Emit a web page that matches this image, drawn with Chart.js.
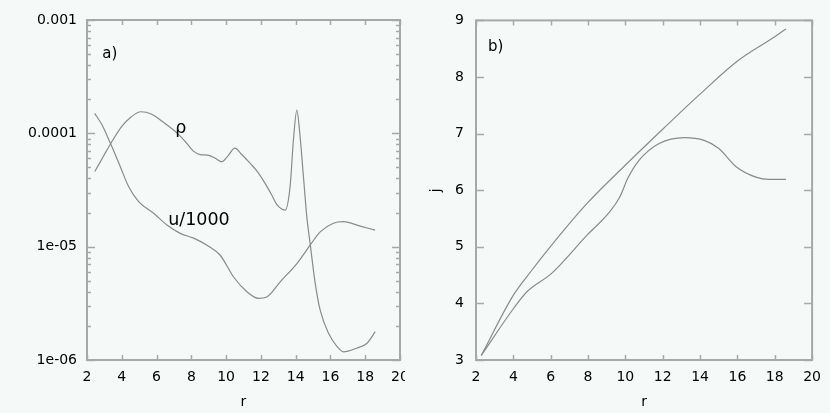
<!DOCTYPE html>
<html>
<head>
<meta charset="utf-8">
<script src="https://cdn.jsdelivr.net/npm/chart.js@4.4.1/dist/chart.umd.min.js"></script>
<style>
  html, body { margin: 0; padding: 0; background: #f5faf8; }
  #wrap { position: relative; width: 830px; height: 413px; overflow: hidden; }
  canvas { position: absolute; top: 0; background: #f5faf8; }
  #left { left: 0; }
  #right { left: 405px; }
</style>
</head>
<body>
<div id="wrap">
  <canvas id="left" width="420" height="413"></canvas>
  <canvas id="right" width="425" height="413"></canvas>
</div>
<script>
// panel a) density rho and u/1000 against r (log scale)
const rhoR = [2.45, 3.0, 3.4, 4.0, 4.5, 5.1, 5.7, 6.4, 7.2, 7.7, 8.1, 8.5, 9.0, 9.4, 9.75, 10.1, 10.5, 10.9, 11.4, 11.8, 12.25, 12.6, 12.92, 13.2, 13.4, 13.68, 13.87, 14.07, 14.22, 14.45, 14.64, 14.83, 15.12, 15.41, 15.89, 16.37, 16.75, 17.5, 18.09, 18.38, 18.57];
const rhoVals = [4.6e-5, 6.5e-5, 8.3e-5, 1.15e-4, 1.38e-4, 1.55e-4, 1.48e-4, 1.25e-4, 1.0e-4, 8.3e-5, 7.0e-5, 6.5e-5, 6.4e-5, 6.0e-5, 5.6e-5, 6.3e-5, 7.4e-5, 6.5e-5, 5.4e-5, 4.6e-5, 3.6e-5, 2.9e-5, 2.35e-5, 2.15e-5, 2.1e-5, 3.4e-5, 8.7e-5, 1.6e-4, 1.07e-4, 4.1e-5, 1.84e-5, 1.07e-5, 4.8e-6, 2.75e-6, 1.72e-6, 1.32e-6, 1.18e-6, 1.27e-6, 1.4e-6, 1.6e-6, 1.78e-6];
const uR = [2.44, 2.86, 3.34, 3.91, 4.39, 4.97, 5.83, 6.6, 7.36, 8.13, 8.9, 9.66, 10.43, 11.2, 11.86, 12.34, 13.11, 14.07, 14.83, 15.41, 16.17, 16.75, 17.71, 18.57];
const uVals = [1.5e-4, 1.19e-4, 8.2e-5, 5.1e-5, 3.4e-5, 2.5e-5, 1.97e-5, 1.55e-5, 1.31e-5, 1.19e-5, 1.03e-5, 8.4e-6, 5.4e-6, 4.0e-6, 3.5e-6, 3.6e-6, 4.9e-6, 7.1e-6, 1.03e-5, 1.35e-5, 1.61e-5, 1.66e-5, 1.52e-5, 1.4e-5];
const leftTickVals = [1e-6, 1e-5, 1e-4, 1e-3];
const leftTickLabels = ['1e-06', '1e-05', '0.0001', '0.001'];

// panel b) j against r
const jUpperR = [2.28, 4.01, 5.0, 6.05, 7.96, 9.99, 12.04, 14.04, 16.04, 18.0, 18.6];
const jUpper = [3.08, 4.15, 4.59, 5.03, 5.77, 6.44, 7.09, 7.71, 8.29, 8.71, 8.85];
const jLowerR = [2.28, 4.01, 4.74, 6.05, 7.96, 9.17, 9.7, 10.13, 10.74, 11.78, 13.17, 14.22, 14.99, 15.95, 16.99, 17.69, 18.6];
const jLower = [3.08, 3.91, 4.21, 4.53, 5.21, 5.62, 5.88, 6.21, 6.53, 6.82, 6.93, 6.88, 6.74, 6.41, 6.23, 6.19, 6.19];

const xTicks = [2, 4, 6, 8, 10, 12, 14, 16, 18, 20];

const FONT = 'DejaVu Sans';
const LINE = '#8a8a8a';
const FRAME = '#a8a8a8';

function pts(xs, ys) { return xs.map((x, i) => ({x: x, y: ys[i]})); }

// frame with inward ticks on all four sides, plus text notes placed in data coords
const frameTicks = {
  id: 'frameTicks',
  afterDatasetsDraw(chart, args, opts) {
    const {ctx, chartArea: a} = chart;
    const x = chart.scales.x, y = chart.scales.y;
    ctx.save();
    ctx.strokeStyle = FRAME;
    ctx.lineWidth = 1.5;
    ctx.beginPath();
    x.ticks.forEach(t => {
      const px = Math.round(x.getPixelForValue(t.value)) + 0.5;
      ctx.moveTo(px, a.bottom); ctx.lineTo(px, a.bottom - 5);
      ctx.moveTo(px, a.top); ctx.lineTo(px, a.top + 5);
    });
    y.ticks.forEach(t => {
      const py = Math.round(y.getPixelForValue(t.value)) + 0.5;
      ctx.moveTo(a.left, py); ctx.lineTo(a.left + 8, py);
      ctx.moveTo(a.right, py); ctx.lineTo(a.right - 8, py);
    });
    (opts.minor || []).forEach(v => {
      const py = Math.round(y.getPixelForValue(v)) + 0.5;
      ctx.moveTo(a.left, py); ctx.lineTo(a.left + 4, py);
      ctx.moveTo(a.right, py); ctx.lineTo(a.right - 4, py);
    });
    ctx.stroke();
    ctx.lineWidth = 2;
    ctx.strokeRect(a.left, a.top, a.right - a.left, a.bottom - a.top);
    ctx.fillStyle = '#000';
    ctx.textBaseline = 'middle';
    (opts.notes || []).forEach(n => {
      ctx.font = n.size + 'px "' + FONT + '"';
      ctx.textAlign = n.align || 'left';
      ctx.fillText(n.text, x.getPixelForValue(n.x), y.getPixelForValue(n.y));
    });
    ctx.restore();
  }
};

function xScale() {
  return {
    type: 'linear', min: 2, max: 20,
    afterBuildTicks: s => { s.ticks = xTicks.map(v => ({value: v})); },
    afterFit: s => { s.height = 53; },
    grid: {display: false, drawTicks: false},
    border: {display: false},
    ticks: {color: '#000', padding: 9, maxRotation: 0, autoSkip: false, font: {family: FONT, size: 14}},
    title: {display: true, text: 'r', color: '#000', padding: {top: 0, bottom: 2}, font: {family: FONT, size: 14}}
  };
}

function lineSet(data) {
  return {data: data, borderColor: LINE, borderWidth: 1.2, pointRadius: 0, fill: false,
          cubicInterpolationMode: 'monotone'};
}

const minorTicks = [];
[1e-6, 1e-5, 1e-4].forEach(d => { for (let k = 2; k <= 9; k++) minorTicks.push(k * d); });

new Chart(document.getElementById('left'), {
  type: 'line',
  data: {datasets: [lineSet(pts(rhoR, rhoVals)), lineSet(pts(uR, uVals))]},
  options: {
    responsive: false, animation: false, devicePixelRatio: 1,
    layout: {padding: {top: 20, right: 20, left: 0, bottom: 0}},
    plugins: {
      legend: {display: false}, tooltip: {enabled: false},
      frameTicks: {
        minor: minorTicks,
        notes: [
          {text: 'a)', x: 2.88, y: 5.0e-4, size: 15},
          {text: 'ρ', x: 7.4, y: 1.1e-4, size: 17.5, align: 'center'},
          {text: 'u/1000', x: 6.67, y: 1.72e-5, size: 17.5}
        ]
      }
    },
    scales: {
      x: xScale(),
      y: {
        type: 'logarithmic', min: 1e-6, max: 1e-3,
        afterBuildTicks: s => { s.ticks = leftTickVals.map(v => ({value: v})); },
        afterFit: s => { s.width = 87; },
        grid: {display: false, drawTicks: false},
        border: {display: false},
        ticks: {color: '#000', padding: 10, font: {family: FONT, size: 14},
                callback: v => leftTickLabels[leftTickVals.indexOf(v)] ?? ''}
      }
    }
  },
  plugins: [frameTicks]
});

new Chart(document.getElementById('right'), {
  type: 'line',
  data: {datasets: [lineSet(pts(jUpperR, jUpper)), lineSet(pts(jLowerR, jLower))]},
  options: {
    responsive: false, animation: false, devicePixelRatio: 1,
    layout: {padding: {top: 20, right: 9, left: 0, bottom: 0}},
    plugins: {
      legend: {display: false}, tooltip: {enabled: false},
      frameTicks: {
        notes: [{text: 'b)', x: 2.64, y: 8.52, size: 15}]
      }
    },
    scales: {
      x: xScale(),
      y: {
        type: 'linear', min: 3, max: 9,
        afterFit: s => { s.width = 71; },
        grid: {display: false, drawTicks: false},
        border: {display: false},
        ticks: {color: '#000', padding: 12, stepSize: 1, font: {family: FONT, size: 14}},
        title: {display: true, text: 'j', color: '#000', padding: {top: 23, bottom: 0}, font: {family: FONT, size: 14}}
      }
    }
  },
  plugins: [frameTicks]
});
</script>
</body>
</html>
